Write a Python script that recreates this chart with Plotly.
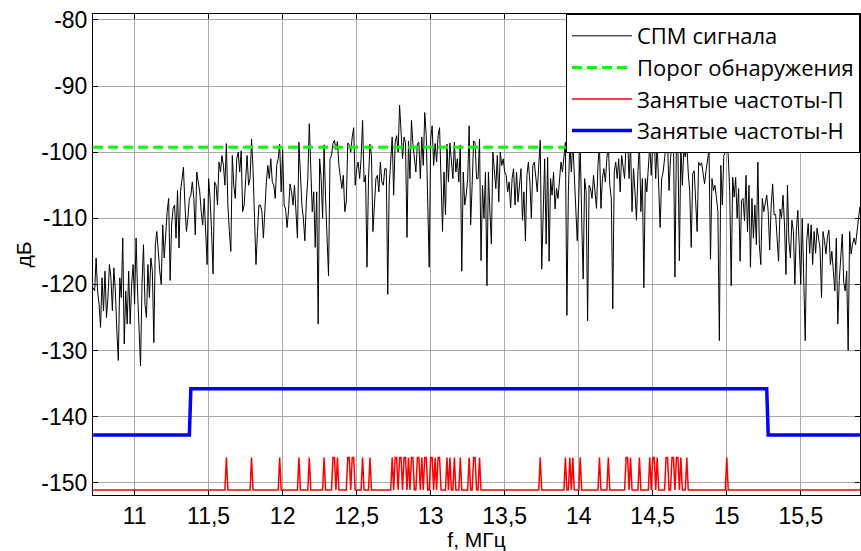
import numpy as np
import plotly.graph_objects as go

# ---------------- data ----------------
freq_start_mhz = 10.72
freq_step_mhz = 0.01

psd_db = [
    -120.5, -121, -116, -121, -123, -126.5, -119, -124, -118, -125,          # 10.72
    -122, -117, -119, -124, -117.5, -121, -127, -131.5, -119, -122,          # 10.82
    -113, -129, -121, -126, -118, -126, -120, -117, -123, -113,              # 10.92
    -121, -127, -132.3, -120, -114, -123, -125, -117, -122, -116,            # 11.02
    -118, -128.8, -114, -112, -116, -118, -120, -111, -116, -111.5,          # 11.12
    -109, -107, -119.4, -111, -108.5, -108, -113, -105.8, -114.5, -106,      # 11.22
    -104, -102.3, -108, -112, -110, -107, -106.5, -104.5, -107, -112.5,      # 11.32
    -103, -104.5, -106, -109, -111, -107, -113, -117, -104, -107,            # 11.42
    -112, -118.4, -104.5, -105, -108, -101.5, -103, -100.5, -102, -105,      # 11.52
    -98.7, -108, -112, -115, -100.5, -105, -107, -101, -100, -103,           # 11.62
    -99.8, -109, -108, -104.5, -100.5, -105, -104, -98, -102.5, -110,        # 11.72
    -117, -112, -108, -108, -109, -113, -107.5, -104.5, -102, -104,          # 11.82
    -101, -104.5, -105, -107, -102, -101, -98.8, -106, -99.6, -108,          # 11.92
    -108.6, -111.4, -108.8, -104.8, -106, -108, -105, -109, -113, -98.5,     # 12.02
    -103, -108, -110, -113.4, -107.5, -104, -95.7, -104, -109, -106,         # 12.12
    -114.4, -106, -126, -101, -104, -110, -98.9, -107, -113, -118.7,         # 12.22
    -101, -100.5, -98.7, -98.2, -99.6, -98.4, -102, -104, -105.5, -103.5,    # 12.32
    -109, -107.5, -98.6, -98.9, -100, -97.7, -96.3, -105, -102.5, -101.5,    # 12.42
    -104, -101, -95.2, -104.5, -103.5, -117.4, -104, -98.8, -100.5, -112,    # 12.52
    -107, -104, -103.5, -106, -101.5, -104.5, -105, -102.5, -102.5, -121.5,  # 12.62
    -105, -102, -97.7, -106.5, -98.5, -97.5, -100, -92.9, -96.5, -101,       # 12.72
    -97.7, -98.6, -112.9, -98.3, -104, -95.2, -98.8, -101, -103, -98.7,      # 12.82
    -98.5, -104, -97.7, -102, -94, -97.5, -110, -117.4, -98, -96,            # 12.92
    -102, -98.7, -101.5, -97.5, -96.3, -105, -112, -103, -109.5, -98.8,      # 13.02
    -104.5, -98.6, -101, -104, -98.5, -103, -101, -104.5, -98.9, -118,       # 13.12
    -103, -108, -106.5, -104, -96, -111, -105, -98.3, -98.6, -104,           # 13.22
    -104, -98, -116.4, -105, -110, -103, -120.2, -103, -109, -113.9,         # 13.32
    -100, -102.5, -105.5, -100.5, -107.5, -100, -102, -101, -103, -103.5,    # 13.42
    -106, -104.5, -108.4, -104, -102.5, -108, -103, -107.5, -104.5, -102.5,  # 13.52
    -110.3, -106, -113.4, -103.5, -101.5, -104.5, -110, -102, -101.5, -103.5,  # 13.62
    -106, -102, -98.2, -117.7, -110, -101, -113.9, -100.8, -116.5, -104,     # 13.72
    -106.5, -103, -108.6, -105.5, -107, -103.5, -101.5, -103, -100.5, -98.5,  # 13.82
    -124.7, -106, -98.6, -103, -98.4, -104, -108, -113.4, -107, -98.7,       # 13.92
    -110, -119.2, -104, -106, -125.5, -105, -105.5, -107, -103.5, -106,      # 14.02
    -108.5, -102, -98.8, -108.5, -104, -102.5, -104.5, -101, -98.6, -105,    # 14.12
    -107, -123.7, -103, -101.5, -104, -101, -106, -100.5, -102.5, -104,      # 14.22
    -98.5, -97.8, -104, -98.7, -109, -102.5, -106, -110.3, -103, -98.5,      # 14.32
    -109, -104, -120.5, -104, -106, -102, -98.9, -103.5, -98.3, -97.5,       # 14.42
    -104, -98.6, -105, -111.4, -104, -103, -101, -98.5, -98.3, -105.8,       # 14.52
    -101, -98.6, -98.4, -118.9, -98.2, -98.7, -116.4, -98.9, -105, -99.5,    # 14.62
    -100.7, -98.8, -103.2, -106, -114.4, -103.3, -102.8, -106.8, -112, -101.5,  # 14.72
    -102, -101.6, -103, -104.8, -102.8, -101, -99.6, -116.2, -104, -105.8,   # 14.82
    -105, -106.8, -109, -128.5, -102, -108, -100.5, -100, -97.5, -100.5,     # 14.92
    -106, -120.2, -103.8, -106.8, -103.8, -110, -105.5, -116.5, -107.3, -107,  # 15.02
    -110.4, -103.5, -112, -105, -117.4, -107, -113, -108, -114, -101.5,      # 15.12
    -114, -117, -107, -109, -107.5, -106.5, -109, -114.8, -108, -104.8,      # 15.22
    -109.5, -109.4, -113, -116.5, -108.6, -110, -106.5, -111, -118.5, -105,  # 15.32
    -113.6, -116, -110.3, -112, -120, -111.8, -108.8, -113.4, -120, -110,    # 15.42
    -119, -128.5, -113.4, -110.8, -115.3, -111, -117, -112, -115.3, -111.5,  # 15.52
    -113, -114.5, -122, -112, -113.4, -115.4, -112.8, -111.8, -117, -115,    # 15.62
    -118, -121, -113, -126, -119.4, -115, -112.4, -119.7, -121, -118,        # 15.72
    -130, -112, -115.4, -113.9, -113, -114, -112.4, -110, -108.3, -110,      # 15.82
    -109,                                                                    # 15.92
]

threshold_db = -99.25

occupied_mhz = [
    11.62, 11.79, 11.98, 12.11, 12.18, 12.28, 12.34, 12.35, 12.37, 12.44,
    12.45, 12.47, 12.48, 12.54, 12.59, 12.74, 12.76, 12.77, 12.79, 12.80,
    12.82, 12.83, 12.85, 12.87, 12.88, 12.91, 12.92, 12.94, 12.96, 12.97,
    13.00, 13.01, 13.03, 13.05, 13.06, 13.11, 13.13, 13.16, 13.20, 13.26,
    13.29, 13.30, 13.33, 13.74, 13.91, 13.94, 13.96, 14.01, 14.14, 14.20,
    14.32, 14.33, 14.35, 14.41, 14.48, 14.50, 14.51, 14.53, 14.59, 14.60,
    14.63, 14.64, 14.66, 14.67, 14.69, 14.73, 15.00,
]
occupied_p_low_db = -151.1
occupied_p_high_db = -146.2

occupied_h_x = [10.72, 11.37, 11.38, 15.27, 15.28, 15.92]
occupied_h_db = [-142.8, -142.8, -135.8, -135.8, -142.8, -142.8]

x_tickvals = [11, 11.5, 12, 12.5, 13, 13.5, 14, 14.5, 15, 15.5]
x_ticktext = ["11", "11,5", "12", "12,5", "13", "13,5", "14", "14,5", "15", "15,5"]
y_tickvals = [-80, -90, -100, -110, -120, -130, -140, -150]
y_ticktext = ["-80", "-90", "-100", "-110", "-120", "-130", "-140", "-150"]

# ---------------- figure ----------------
freqs = freq_start_mhz + freq_step_mhz * np.arange(len(psd_db))
occ_set = set(np.round(occupied_mhz, 2))
red_y = [occupied_p_high_db if round(f, 2) in occ_set else occupied_p_low_db for f in freqs]

FONT = "Liberation Sans, Arial, sans-serif"
LEGEND_FONT = "Open Sans, Liberation Sans, Arial, sans-serif"

fig = go.Figure()
fig.add_trace(go.Scatter(x=freqs, y=psd_db, mode="lines", name="СПМ сигнала",
                         line=dict(color="black", width=1)))
fig.add_trace(go.Scatter(x=[freqs[0], freqs[-1]], y=[threshold_db, threshold_db], mode="lines",
                         name="Порог обнаружения",
                         line=dict(color="#00ff00", width=3, dash="10px,5px")))
fig.add_trace(go.Scatter(x=freqs, y=red_y, mode="lines", name="Занятые частоты-П",
                         line=dict(color="#ff0000", width=1.5)))
fig.add_trace(go.Scatter(x=occupied_h_x, y=occupied_h_db, mode="lines", name="Занятые частоты-Н",
                         line=dict(color="#0000ff", width=3.5)))

axis_common = dict(
    showline=True, linecolor="black", linewidth=1, mirror="ticks",
    ticks="inside", ticklen=5, tickcolor="black",
    showgrid=True, gridcolor="#a8a8a8", gridwidth=1,
    zeroline=False,
    tickfont=dict(family=FONT, size=23, color="black"),
)

fig.update_xaxes(range=[10.719, 15.90], tickvals=x_tickvals, ticktext=x_ticktext,
                 title=dict(text="f, МГц", font=dict(family=FONT, size=21, color="black"), standoff=2),
                 **axis_common)
fig.update_yaxes(range=[-151.86, -79.1], tickvals=y_tickvals, ticktext=y_ticktext,
                 title=dict(text="дБ", font=dict(family=FONT, size=21, color="black"), standoff=4),
                 **axis_common)

fig.update_layout(
    width=861, height=551,
    margin=dict(l=93, r=1, t=14, b=56),
    paper_bgcolor="white", plot_bgcolor="white",
    showlegend=True,
    legend=dict(x=1, y=1, xanchor="right", yanchor="top",
                bgcolor="white", bordercolor="black", borderwidth=1,
                font=dict(family=LEGEND_FONT, size=22, color="black"),
                itemwidth=60, tracegroupgap=0),
    font=dict(family=FONT, color="black"),
)

fig.write_html("out.html")
